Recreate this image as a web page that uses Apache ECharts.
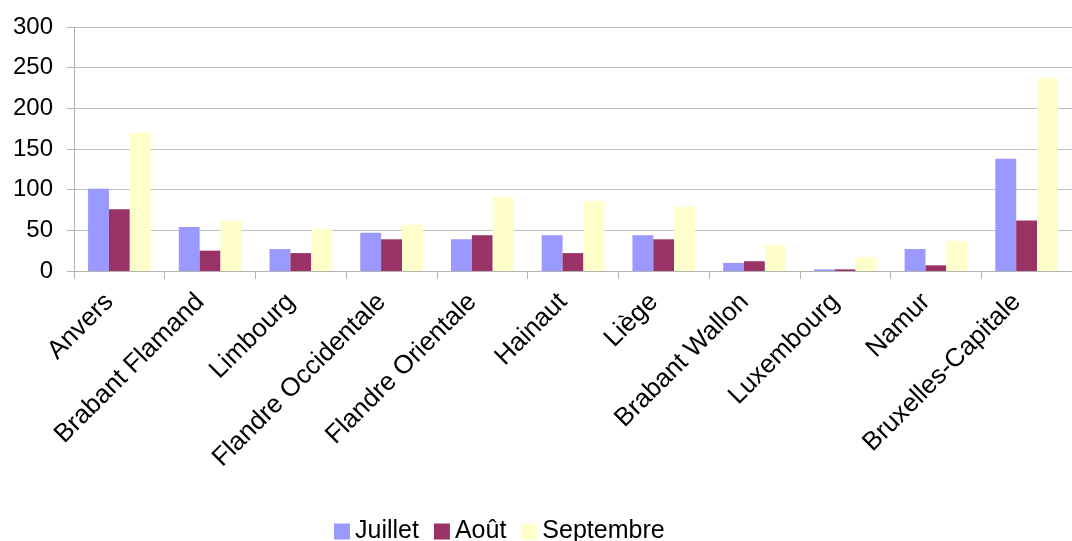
<!DOCTYPE html>
<html><head><meta charset="utf-8">
<script src="https://cdn.jsdelivr.net/npm/echarts@6/dist/echarts.min.js"></script>
<style>html,body{margin:0;padding:0;background:#fff}#c{width:1072px;height:541px}</style>
</head><body><div id="c"></div>
<script>
const categories = ["Anvers","Brabant Flamand","Limbourg","Flandre Occidentale","Flandre Orientale","Hainaut","Liège","Brabant Wallon","Luxembourg","Namur","Bruxelles-Capitale"];
const juillet = [101,54,27,47,39,44,44,10,2,27,138];
const aout = [76,25,22,39,44,22,39,12,2,7,62];
const septembre = [170,62,52,57,91,86,79,32,17,37,238];
const yTicks = [0,50,100,150,200,250,300];
const FONT = "Liberation Sans, Arial, sans-serif";
const chart = echarts.init(document.getElementById('c'));
chart.setOption({
  animation:false,
  textStyle:{fontFamily:FONT},
  grid:{left:74,top:27,bottom:270,right:-10,containLabel:false},
  legend:{bottom:-8,left:329,itemWidth:16,itemHeight:16,itemGap:15,icon:'rect',
    textStyle:{fontFamily:FONT,fontSize:25,color:'#000'},
    data:['Juillet','Août','Septembre']},
  xAxis:{type:'category',data:categories,
    axisLine:{lineStyle:{color:'#b3b3b3',width:1}},
    axisTick:{show:true,length:8,lineStyle:{color:'#b3b3b3'}},
    axisLabel:{rotate:45,fontSize:26,color:'#000',margin:17,fontFamily:FONT,interval:0,padding:[0,14,0,0]}},
  yAxis:{type:'value',min:0,max:300,interval:50,
    axisLine:{show:true,lineStyle:{color:'#b3b3b3'}},
    axisTick:{show:true,length:7,lineStyle:{color:'#b3b3b3'}},
    splitLine:{lineStyle:{color:'#c0c0c0',width:1}},
    axisLabel:{fontSize:24,color:'#000',margin:21,fontFamily:FONT,
      formatter:v=>yTicks.includes(v)?String(v):''}},
  series:[
    {name:'Juillet',type:'bar',data:juillet,itemStyle:{color:'#9999ff'},barGap:'0%',barCategoryGap:'31%'},
    {name:'Août',type:'bar',data:aout,itemStyle:{color:'#993366'},barGap:'0%',barCategoryGap:'31%'},
    {name:'Septembre',type:'bar',data:septembre,itemStyle:{color:'#ffffcc'},barGap:'0%',barCategoryGap:'31%'}
  ]
});
</script></body></html>
